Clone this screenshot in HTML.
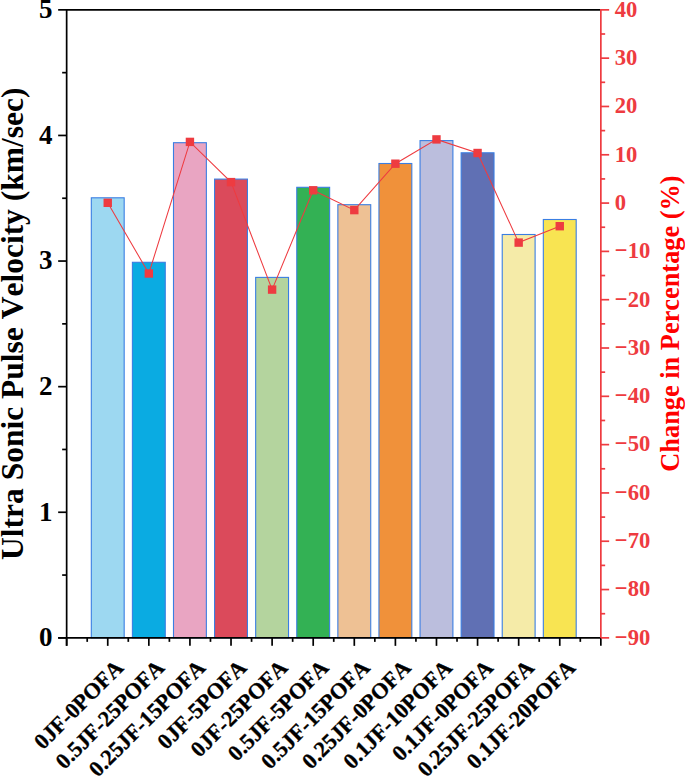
<!DOCTYPE html><html><head><meta charset="utf-8"><style>html,body{margin:0;padding:0;background:#fff;overflow:hidden}svg{display:block}text{font-family:"Liberation Serif",serif;font-weight:bold;font-kerning:none}</style></head><body>
<svg width="685" height="776" viewBox="0 0 685 776">
<rect x="91.31" y="197.80" width="32.87" height="440.06" fill="#9dd8f1" stroke="#3a7ee2" stroke-width="1.1"/>
<rect x="132.40" y="262.30" width="32.87" height="375.56" fill="#0aabe2" stroke="#3a7ee2" stroke-width="1.1"/>
<rect x="173.49" y="142.70" width="32.87" height="495.16" fill="#e9a5c2" stroke="#3a7ee2" stroke-width="1.1"/>
<rect x="214.58" y="179.10" width="32.87" height="458.76" fill="#db4a5b" stroke="#3a7ee2" stroke-width="1.1"/>
<rect x="255.67" y="277.40" width="32.87" height="360.46" fill="#b4d49e" stroke="#3a7ee2" stroke-width="1.1"/>
<rect x="296.77" y="187.30" width="32.87" height="450.56" fill="#33b154" stroke="#3a7ee2" stroke-width="1.1"/>
<rect x="337.86" y="204.70" width="32.87" height="433.16" fill="#eec194" stroke="#3a7ee2" stroke-width="1.1"/>
<rect x="378.95" y="163.50" width="32.87" height="474.36" fill="#f0913a" stroke="#3a7ee2" stroke-width="1.1"/>
<rect x="420.04" y="140.60" width="32.87" height="497.26" fill="#bbbedd" stroke="#3a7ee2" stroke-width="1.1"/>
<rect x="461.14" y="152.80" width="32.87" height="485.06" fill="#6070b4" stroke="#3a7ee2" stroke-width="1.1"/>
<rect x="502.23" y="234.50" width="32.87" height="403.36" fill="#f5eba8" stroke="#3a7ee2" stroke-width="1.1"/>
<rect x="543.32" y="219.50" width="32.87" height="418.36" fill="#f8e452" stroke="#3a7ee2" stroke-width="1.1"/>
<line x1="66.65" y1="9.85" x2="600.85" y2="9.85" stroke="#000" stroke-width="1.7"/>
<line x1="66.65" y1="9.1" x2="66.65" y2="645.86" stroke="#000" stroke-width="1.7"/>
<line x1="58.150000000000006" y1="637.86" x2="600.85" y2="637.86" stroke="#000" stroke-width="1.7"/>
<line x1="58.150000000000006" y1="637.86" x2="66.65" y2="637.86" stroke="#000" stroke-width="1.7"/>
<text x="52.5" y="646.16" font-size="27" text-anchor="end">0</text>
<line x1="58.150000000000006" y1="512.26" x2="66.65" y2="512.26" stroke="#000" stroke-width="1.7"/>
<text x="52.5" y="520.56" font-size="27" text-anchor="end">1</text>
<line x1="58.150000000000006" y1="386.66" x2="66.65" y2="386.66" stroke="#000" stroke-width="1.7"/>
<text x="52.5" y="394.96" font-size="27" text-anchor="end">2</text>
<line x1="58.150000000000006" y1="261.05" x2="66.65" y2="261.05" stroke="#000" stroke-width="1.7"/>
<text x="52.5" y="269.35" font-size="27" text-anchor="end">3</text>
<line x1="58.150000000000006" y1="135.45" x2="66.65" y2="135.45" stroke="#000" stroke-width="1.7"/>
<text x="52.5" y="143.75" font-size="27" text-anchor="end">4</text>
<line x1="58.150000000000006" y1="9.85" x2="66.65" y2="9.85" stroke="#000" stroke-width="1.7"/>
<text x="52.5" y="18.15" font-size="27" text-anchor="end">5</text>
<line x1="62.150000000000006" y1="575.06" x2="66.65" y2="575.06" stroke="#000" stroke-width="1.7"/>
<line x1="62.150000000000006" y1="449.46" x2="66.65" y2="449.46" stroke="#000" stroke-width="1.7"/>
<line x1="62.150000000000006" y1="323.86" x2="66.65" y2="323.86" stroke="#000" stroke-width="1.7"/>
<line x1="62.150000000000006" y1="198.25" x2="66.65" y2="198.25" stroke="#000" stroke-width="1.7"/>
<line x1="62.150000000000006" y1="72.65" x2="66.65" y2="72.65" stroke="#000" stroke-width="1.7"/>
<line x1="66.65" y1="637.86" x2="66.65" y2="645.86" stroke="#000" stroke-width="1.7"/>
<line x1="107.74" y1="637.86" x2="107.74" y2="645.86" stroke="#000" stroke-width="1.7"/>
<line x1="148.83" y1="637.86" x2="148.83" y2="645.86" stroke="#000" stroke-width="1.7"/>
<line x1="189.93" y1="637.86" x2="189.93" y2="645.86" stroke="#000" stroke-width="1.7"/>
<line x1="231.02" y1="637.86" x2="231.02" y2="645.86" stroke="#000" stroke-width="1.7"/>
<line x1="272.11" y1="637.86" x2="272.11" y2="645.86" stroke="#000" stroke-width="1.7"/>
<line x1="313.20" y1="637.86" x2="313.20" y2="645.86" stroke="#000" stroke-width="1.7"/>
<line x1="354.30" y1="637.86" x2="354.30" y2="645.86" stroke="#000" stroke-width="1.7"/>
<line x1="395.39" y1="637.86" x2="395.39" y2="645.86" stroke="#000" stroke-width="1.7"/>
<line x1="436.48" y1="637.86" x2="436.48" y2="645.86" stroke="#000" stroke-width="1.7"/>
<line x1="477.57" y1="637.86" x2="477.57" y2="645.86" stroke="#000" stroke-width="1.7"/>
<line x1="518.67" y1="637.86" x2="518.67" y2="645.86" stroke="#000" stroke-width="1.7"/>
<line x1="559.76" y1="637.86" x2="559.76" y2="645.86" stroke="#000" stroke-width="1.7"/>
<line x1="600.85" y1="637.86" x2="600.85" y2="645.86" stroke="#000" stroke-width="1.7"/>
<line x1="87.20" y1="637.86" x2="87.20" y2="641.86" stroke="#000" stroke-width="1.7"/>
<line x1="128.29" y1="637.86" x2="128.29" y2="641.86" stroke="#000" stroke-width="1.7"/>
<line x1="169.38" y1="637.86" x2="169.38" y2="641.86" stroke="#000" stroke-width="1.7"/>
<line x1="210.47" y1="637.86" x2="210.47" y2="641.86" stroke="#000" stroke-width="1.7"/>
<line x1="251.57" y1="637.86" x2="251.57" y2="641.86" stroke="#000" stroke-width="1.7"/>
<line x1="292.66" y1="637.86" x2="292.66" y2="641.86" stroke="#000" stroke-width="1.7"/>
<line x1="333.75" y1="637.86" x2="333.75" y2="641.86" stroke="#000" stroke-width="1.7"/>
<line x1="374.84" y1="637.86" x2="374.84" y2="641.86" stroke="#000" stroke-width="1.7"/>
<line x1="415.93" y1="637.86" x2="415.93" y2="641.86" stroke="#000" stroke-width="1.7"/>
<line x1="457.03" y1="637.86" x2="457.03" y2="641.86" stroke="#000" stroke-width="1.7"/>
<line x1="498.12" y1="637.86" x2="498.12" y2="641.86" stroke="#000" stroke-width="1.7"/>
<line x1="539.21" y1="637.86" x2="539.21" y2="641.86" stroke="#000" stroke-width="1.7"/>
<line x1="580.30" y1="637.86" x2="580.30" y2="641.86" stroke="#000" stroke-width="1.7"/>
<line x1="600.85" y1="9.1" x2="600.85" y2="637.86" stroke="#ee3b40" stroke-width="1.7"/>
<line x1="600.85" y1="9.85" x2="609.15" y2="9.85" stroke="#ee3b40" stroke-width="1.7"/>
<text transform="translate(614.8,16.65) scale(0.96,1)" font-size="23.6" fill="#ee3b40">40</text>
<line x1="600.85" y1="58.16" x2="609.15" y2="58.16" stroke="#ee3b40" stroke-width="1.7"/>
<text transform="translate(614.8,64.96) scale(0.96,1)" font-size="23.6" fill="#ee3b40">30</text>
<line x1="600.85" y1="106.47" x2="609.15" y2="106.47" stroke="#ee3b40" stroke-width="1.7"/>
<text transform="translate(614.8,113.27) scale(0.96,1)" font-size="23.6" fill="#ee3b40">20</text>
<line x1="600.85" y1="154.78" x2="609.15" y2="154.78" stroke="#ee3b40" stroke-width="1.7"/>
<text transform="translate(614.8,161.58) scale(0.96,1)" font-size="23.6" fill="#ee3b40">10</text>
<line x1="600.85" y1="203.08" x2="609.15" y2="203.08" stroke="#ee3b40" stroke-width="1.7"/>
<text transform="translate(614.8,209.88) scale(0.96,1)" font-size="23.6" fill="#ee3b40">0</text>
<line x1="600.85" y1="251.39" x2="609.15" y2="251.39" stroke="#ee3b40" stroke-width="1.7"/>
<text transform="translate(614.8,258.19) scale(0.96,1)" font-size="23.6" fill="#ee3b40">−10</text>
<line x1="600.85" y1="299.70" x2="609.15" y2="299.70" stroke="#ee3b40" stroke-width="1.7"/>
<text transform="translate(614.8,306.50) scale(0.96,1)" font-size="23.6" fill="#ee3b40">−20</text>
<line x1="600.85" y1="348.01" x2="609.15" y2="348.01" stroke="#ee3b40" stroke-width="1.7"/>
<text transform="translate(614.8,354.81) scale(0.96,1)" font-size="23.6" fill="#ee3b40">−30</text>
<line x1="600.85" y1="396.32" x2="609.15" y2="396.32" stroke="#ee3b40" stroke-width="1.7"/>
<text transform="translate(614.8,403.12) scale(0.96,1)" font-size="23.6" fill="#ee3b40">−40</text>
<line x1="600.85" y1="444.63" x2="609.15" y2="444.63" stroke="#ee3b40" stroke-width="1.7"/>
<text transform="translate(614.8,451.43) scale(0.96,1)" font-size="23.6" fill="#ee3b40">−50</text>
<line x1="600.85" y1="492.93" x2="609.15" y2="492.93" stroke="#ee3b40" stroke-width="1.7"/>
<text transform="translate(614.8,499.73) scale(0.96,1)" font-size="23.6" fill="#ee3b40">−60</text>
<line x1="600.85" y1="541.24" x2="609.15" y2="541.24" stroke="#ee3b40" stroke-width="1.7"/>
<text transform="translate(614.8,548.04) scale(0.96,1)" font-size="23.6" fill="#ee3b40">−70</text>
<line x1="600.85" y1="589.55" x2="609.15" y2="589.55" stroke="#ee3b40" stroke-width="1.7"/>
<text transform="translate(614.8,596.35) scale(0.96,1)" font-size="23.6" fill="#ee3b40">−80</text>
<line x1="600.85" y1="637.86" x2="609.15" y2="637.86" stroke="#ee3b40" stroke-width="1.7"/>
<text transform="translate(614.8,644.66) scale(0.96,1)" font-size="23.6" fill="#ee3b40">−90</text>
<line x1="600.85" y1="34.00" x2="605.15" y2="34.00" stroke="#ee3b40" stroke-width="1.7"/>
<line x1="600.85" y1="82.31" x2="605.15" y2="82.31" stroke="#ee3b40" stroke-width="1.7"/>
<line x1="600.85" y1="130.62" x2="605.15" y2="130.62" stroke="#ee3b40" stroke-width="1.7"/>
<line x1="600.85" y1="178.93" x2="605.15" y2="178.93" stroke="#ee3b40" stroke-width="1.7"/>
<line x1="600.85" y1="227.24" x2="605.15" y2="227.24" stroke="#ee3b40" stroke-width="1.7"/>
<line x1="600.85" y1="275.55" x2="605.15" y2="275.55" stroke="#ee3b40" stroke-width="1.7"/>
<line x1="600.85" y1="323.86" x2="605.15" y2="323.86" stroke="#ee3b40" stroke-width="1.7"/>
<line x1="600.85" y1="372.16" x2="605.15" y2="372.16" stroke="#ee3b40" stroke-width="1.7"/>
<line x1="600.85" y1="420.47" x2="605.15" y2="420.47" stroke="#ee3b40" stroke-width="1.7"/>
<line x1="600.85" y1="468.78" x2="605.15" y2="468.78" stroke="#ee3b40" stroke-width="1.7"/>
<line x1="600.85" y1="517.09" x2="605.15" y2="517.09" stroke="#ee3b40" stroke-width="1.7"/>
<line x1="600.85" y1="565.40" x2="605.15" y2="565.40" stroke="#ee3b40" stroke-width="1.7"/>
<line x1="600.85" y1="613.71" x2="605.15" y2="613.71" stroke="#ee3b40" stroke-width="1.7"/>
<polyline points="107.74,202.80 148.83,273.50 189.93,141.90 231.02,182.10 272.11,289.60 313.20,190.30 354.30,210.10 395.39,163.70 436.48,139.40 477.57,153.00 518.67,242.60 559.76,226.20" fill="none" stroke="#ee3b40" stroke-width="1.05"/>
<rect x="103.54" y="198.60" width="8.4" height="8.4" fill="#ee3b40"/>
<rect x="144.63" y="269.30" width="8.4" height="8.4" fill="#ee3b40"/>
<rect x="185.73" y="137.70" width="8.4" height="8.4" fill="#ee3b40"/>
<rect x="226.82" y="177.90" width="8.4" height="8.4" fill="#ee3b40"/>
<rect x="267.91" y="285.40" width="8.4" height="8.4" fill="#ee3b40"/>
<rect x="309.00" y="186.10" width="8.4" height="8.4" fill="#ee3b40"/>
<rect x="350.10" y="205.90" width="8.4" height="8.4" fill="#ee3b40"/>
<rect x="391.19" y="159.50" width="8.4" height="8.4" fill="#ee3b40"/>
<rect x="432.28" y="135.20" width="8.4" height="8.4" fill="#ee3b40"/>
<rect x="473.37" y="148.80" width="8.4" height="8.4" fill="#ee3b40"/>
<rect x="514.47" y="238.40" width="8.4" height="8.4" fill="#ee3b40"/>
<rect x="555.56" y="222.00" width="8.4" height="8.4" fill="#ee3b40"/>
<text transform="translate(124.54,669) rotate(-45)" font-size="22.3" text-anchor="end" stroke="#000" stroke-width="0.3">0JF-0POFA</text>
<text transform="translate(165.63,669) rotate(-45)" font-size="22.3" text-anchor="end" stroke="#000" stroke-width="0.3">0.5JF-25POFA</text>
<text transform="translate(206.73,669) rotate(-45)" font-size="22.3" text-anchor="end" stroke="#000" stroke-width="0.3">0.25JF-15POFA</text>
<text transform="translate(247.82,669) rotate(-45)" font-size="22.3" text-anchor="end" stroke="#000" stroke-width="0.3">0JF-5POFA</text>
<text transform="translate(288.91,669) rotate(-45)" font-size="22.3" text-anchor="end" stroke="#000" stroke-width="0.3">0JF-25POFA</text>
<text transform="translate(330.00,669) rotate(-45)" font-size="22.3" text-anchor="end" stroke="#000" stroke-width="0.3">0.5JF-5POFA</text>
<text transform="translate(371.10,669) rotate(-45)" font-size="22.3" text-anchor="end" stroke="#000" stroke-width="0.3">0.5JF-15POFA</text>
<text transform="translate(412.19,669) rotate(-45)" font-size="22.3" text-anchor="end" stroke="#000" stroke-width="0.3">0.25JF-0POFA</text>
<text transform="translate(453.28,669) rotate(-45)" font-size="22.3" text-anchor="end" stroke="#000" stroke-width="0.3">0.1JF-10POFA</text>
<text transform="translate(494.37,669) rotate(-45)" font-size="22.3" text-anchor="end" stroke="#000" stroke-width="0.3">0.1JF-0POFA</text>
<text transform="translate(535.47,669) rotate(-45)" font-size="22.3" text-anchor="end" stroke="#000" stroke-width="0.3">0.25JF-25POFA</text>
<text transform="translate(576.56,669) rotate(-45)" font-size="22.3" text-anchor="end" stroke="#000" stroke-width="0.3">0.1JF-20POFA</text>
<text transform="translate(23,323.75) rotate(-90)" font-size="31.5" text-anchor="middle">Ultra Sonic Pulse Velocity (km/sec)</text>
<text transform="translate(679,323.5) rotate(-90)" font-size="26.35" text-anchor="middle" fill="#ff0000">Change in Percentage (%)</text>
</svg></body></html>
